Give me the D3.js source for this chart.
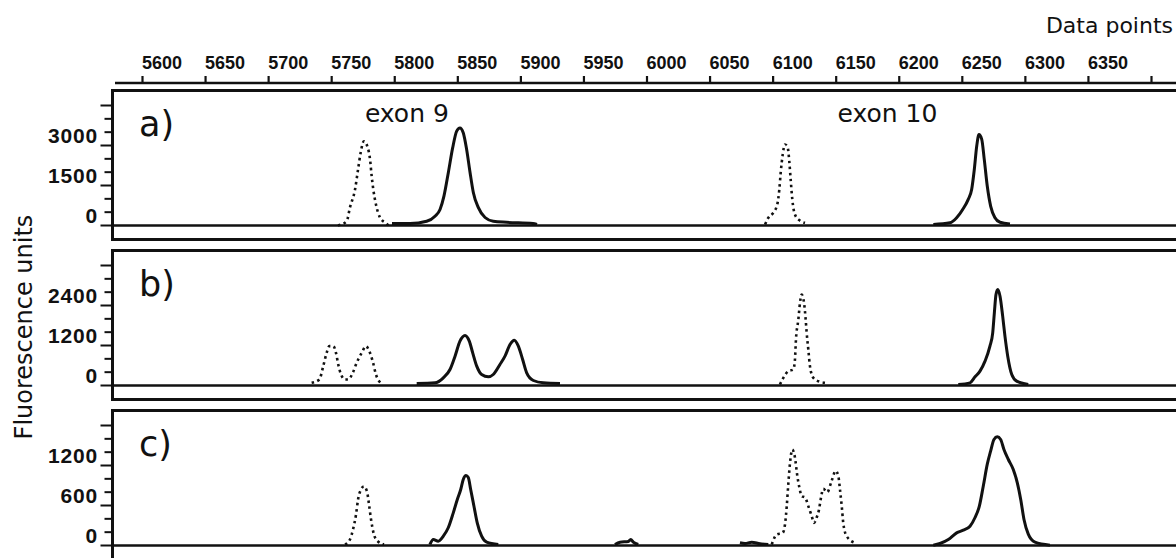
<!DOCTYPE html>
<html>
<head>
<meta charset="utf-8">
<script src="https://cdn.jsdelivr.net/npm/d3@7"></script>
<style>
  body { margin: 0; background: #fff; }
  svg { display: block; }
</style>
</head>
<body>
<svg id="chart" width="1176" height="558"></svg>
<script>
//=============================== data =====================================
var xTicks = [5600, 5650, 5700, 5750, 5800, 5850, 5900, 5950, 6000, 6050, 6100, 6150, 6200, 6250, 6300, 6350, 6400];
var xLabels = [5600, 5650, 5700, 5750, 5800, 5850, 5900, 5950, 6000, 6050, 6100, 6150, 6200, 6250, 6300, 6350];

var panelNames = ["a)", "b)", "c)"];
var yStep = [500, 400, 200];          // minor tick step per panel
var yMajor = [1500, 1200, 600];       // major tick step per panel
var yLabels = [[0, 1500, 3000], [0, 1200, 2400], [0, 600, 1200]];

var exonNames = ["exon 9", "exon 10"];
var exonAt = [5810, 6191];

// panel a
var a_ex9_dot = [[5755.4, 0], [5762.3, 160], [5764.9, 680], [5768.9, 1350], [5771.3, 2100], [5773.4, 2740], [5776.0, 3160], [5778.9, 2930], [5780.8, 2480], [5782.1, 1850], [5783.4, 1350], [5785.5, 790], [5788.7, 300], [5792.7, 110], [5795.8, 0]];
var a_ex9_sol = [[5798.2, 75], [5812.5, 75], [5825.7, 160], [5832.3, 350], [5836.3, 600], [5839.4, 1100], [5842.9, 1990], [5846.3, 2910], [5849.5, 3540], [5852.1, 3660], [5854.7, 3480], [5857.4, 2850], [5860.1, 1990], [5862.7, 1240], [5866.6, 680], [5872.0, 300], [5878.5, 160], [5889.2, 120], [5910.0, 75], [5913.2, 40]];
var a_ex10_dot = [[6094.0, 40], [6096.6, 290], [6100.5, 480], [6103.7, 790], [6105.3, 1350], [6106.4, 1980], [6108.0, 2660], [6109.8, 3040], [6112.0, 2910], [6113.2, 2410], [6114.3, 1730], [6115.6, 980], [6117.7, 410], [6121.2, 200], [6125.7, 100]];
var a_ex10_sol = [[6227.4, 40], [6240.6, 100], [6245.9, 290], [6250.7, 600], [6255.1, 980], [6257.8, 1350], [6259.9, 2100], [6261.8, 2970], [6263.6, 3410], [6265.8, 3230], [6267.8, 2480], [6270.2, 1470], [6272.9, 720], [6276.3, 290], [6280.3, 120], [6288.2, 60]];

// panel b
var b_ex9_dot = [[5734.5, 80], [5740.6, 180], [5743.7, 580], [5746.4, 980], [5748.5, 1180], [5751.7, 1180], [5753.8, 980], [5755.6, 630], [5757.8, 330], [5761.0, 180], [5763.6, 180], [5767.1, 380], [5770.2, 680], [5774.2, 980], [5777.6, 1180], [5780.2, 1030], [5782.9, 730], [5785.5, 330], [5790.0, 60]];
var b_ex9_sol = [[5817.8, 60], [5832.3, 80], [5838.9, 230], [5844.2, 480], [5848.2, 880], [5852.1, 1330], [5856.1, 1500], [5859.5, 1330], [5862.2, 980], [5865.4, 580], [5869.3, 330], [5874.6, 260], [5878.5, 330], [5883.8, 630], [5887.8, 880], [5891.8, 1230], [5895.2, 1360], [5898.4, 1180], [5901.8, 780], [5905.0, 380], [5910.3, 150], [5918.2, 80], [5931.4, 60]];
var b_ex10_dot = [[6105.8, 30], [6108.5, 230], [6112.4, 430], [6116.4, 480], [6117.7, 780], [6118.5, 1380], [6120.4, 1980], [6121.7, 2480], [6123.0, 2730], [6124.9, 2480], [6126.2, 1980], [6127.0, 1580], [6128.3, 1080], [6129.6, 580], [6132.3, 230], [6137.6, 110], [6141.5, 80]];
var b_ex10_sol = [[6247.2, 30], [6256.5, 80], [6260.5, 260], [6264.4, 430], [6268.4, 730], [6272.3, 1180], [6274.5, 1580], [6275.8, 2180], [6277.1, 2730], [6278.5, 2880], [6280.3, 2680], [6282.4, 2080], [6284.2, 1480], [6286.4, 880], [6289.6, 330], [6293.5, 130], [6302.7, 30]];

// panel c
var c_ex9_dot = [[5761.0, 15], [5764.9, 90], [5767.3, 240], [5769.7, 465], [5771.3, 690], [5773.6, 840], [5776.0, 885], [5778.4, 810], [5780.0, 615], [5781.6, 390], [5783.9, 165], [5787.1, 60], [5791.9, 15]];
var c_ex9_sol = [[5828.3, 15], [5831.0, 90], [5834.9, 65], [5838.9, 140], [5842.9, 270], [5846.8, 490], [5850.0, 690], [5852.7, 840], [5854.7, 990], [5856.9, 1050], [5858.7, 1020], [5860.6, 840], [5863.2, 590], [5865.8, 340], [5869.3, 140], [5873.3, 50], [5882.5, 15]];
var c_bump1 = [[5975.0, 15], [5979.0, 50], [5985.6, 60], [5987.5, 90], [5989.5, 50], [5993.5, 15]];
var c_bump2 = [[6074.1, 40], [6078.1, 30], [6083.4, 50], [6090.0, 25], [6096.6, 15]];
var c_ex10_dot = [[6099.3, 15], [6103.2, 165], [6108.0, 190], [6109.8, 315], [6111.2, 590], [6112.4, 915], [6113.8, 1240], [6115.6, 1440], [6117.7, 1320], [6119.6, 1040], [6121.2, 870], [6123.0, 740], [6125.7, 720], [6128.3, 590], [6131.0, 440], [6132.8, 340], [6134.9, 420], [6136.8, 540], [6138.1, 690], [6140.2, 850], [6143.3, 800], [6146.8, 970], [6150.0, 1120], [6152.1, 1040], [6153.4, 840], [6154.8, 590], [6156.0, 340], [6158.7, 140], [6165.3, 40]];
var c_ex10_sol = [[6227.4, 5], [6232.7, 30], [6239.3, 90], [6245.9, 190], [6251.2, 230], [6256.5, 290], [6260.5, 420], [6263.9, 590], [6267.0, 890], [6270.2, 1220], [6272.9, 1420], [6275.5, 1590], [6278.1, 1630], [6280.8, 1590], [6283.4, 1440], [6286.9, 1290], [6290.8, 1140], [6294.0, 940], [6296.7, 690], [6299.3, 390], [6302.7, 170], [6308.0, 50], [6319.9, 5]];

var dottedTraces = [[a_ex9_dot, a_ex10_dot], [b_ex9_dot, b_ex10_dot], [c_ex9_dot, c_ex10_dot]];
var solidTraces = [[a_ex9_sol, a_ex10_sol], [b_ex9_sol, b_ex10_sol], [c_ex9_sol, c_bump1, c_bump2, c_ex10_sol]];

//=============================== layout ===================================
var W = 1176, H = 558;
var frameLeft = 112.5,
  panelTop0 = 90.5,
  panelStep = 160,
  panelZero = 135,     // from frame top to the 0 line
  panelH = 149,
  plotH = 120;         // pixels from 0 to 3 major steps

var svg = d3.select("#chart");
svg.append("rect").attr("width", W).attr("height", H).attr("fill", "#fff");

var x = d3.scaleLinear().domain([5600, 6400]).range([142, 1151]);

var ink = "#111";
var numFont = "'Liberation Sans', Arial, Helvetica, sans-serif";
var txtFont = "'DejaVu Sans', Verdana, sans-serif";

//=============================== top axis ==================================
var topAxisY = 83;
svg.append("line")
  .attr("x1", 115).attr("x2", W)
  .attr("y1", topAxisY).attr("y2", topAxisY)
  .attr("stroke", ink).attr("stroke-width", 2.5);

var topAxis = d3.axisTop(x).tickValues(xTicks).tickSize(7).tickFormat("");
var gTop = svg.append("g").attr("transform", "translate(0," + topAxisY + ")").call(topAxis);
gTop.select(".domain").remove();
gTop.selectAll(".tick line").attr("stroke", ink).attr("stroke-width", 2.2);

// labels sit to the right of their tick
svg.append("g").selectAll("text")
  .data(xLabels)
  .enter()
  .append("text")
  .attr("x", function(d) { return x(d); })
  .attr("y", 69)
  .attr("font-family", numFont)
  .attr("font-weight", "bold")
  .attr("font-size", 18)
  .attr("fill", ink)
  .text(function(d) { return d; });

svg.append("text")
  .attr("x", 1173).attr("y", 33)
  .attr("text-anchor", "end")
  .attr("font-family", txtFont)
  .attr("font-size", 22)
  .attr("fill", ink)
  .text("Data points");

svg.append("text")
  .attr("transform", "translate(32,327) rotate(-90)")
  .attr("text-anchor", "middle")
  .attr("font-family", txtFont)
  .attr("font-size", 24)
  .attr("fill", ink)
  .text("Fluorescence units");

//=============================== panels ====================================
for (var p = 0; p < panelNames.length; p++) {
  var pTop = panelTop0 + p * panelStep;
  var zero = pTop + panelZero;
  var y = d3.scaleLinear().domain([0, 3 * yMajor[p]]).range([zero, zero - plotH]);

  var g = svg.append("g");

  // frame, right side runs off the picture
  g.append("rect")
    .attr("x", frameLeft).attr("y", pTop)
    .attr("width", W).attr("height", panelH)
    .attr("fill", "none").attr("stroke", ink).attr("stroke-width", 3);

  // zero line
  g.append("line")
    .attr("x1", frameLeft).attr("x2", W)
    .attr("y1", y(0)).attr("y2", y(0))
    .attr("stroke", ink).attr("stroke-width", 2.5);

  // y ticks
  var tv = d3.range(0, 3 * yMajor[p] + 1, yStep[p]);
  g.selectAll("line.yt")
    .data(tv)
    .enter()
    .append("line")
    .attr("class", "yt")
    .attr("x1", function(d) { return d % yMajor[p] == 0 ? frameLeft - 12 : frameLeft - 8; })
    .attr("x2", frameLeft)
    .attr("y1", function(d) { return y(d); })
    .attr("y2", function(d) { return y(d); })
    .attr("stroke", ink).attr("stroke-width", 2);

  g.selectAll("text.yl")
    .data(yLabels[p])
    .enter()
    .append("text")
    .attr("class", "yl")
    .attr("x", 98)
    .attr("y", function(d) { return y(d) - 3; })
    .attr("text-anchor", "end")
    .attr("font-family", numFont)
    .attr("font-weight", "bold")
    .attr("font-size", 21)
    .attr("letter-spacing", 0.8)
    .attr("fill", ink)
    .text(function(d) { return d; });

  // panel letter
  g.append("text")
    .attr("x", 139).attr("y", pTop + 45)
    .attr("font-family", txtFont)
    .attr("font-size", 35)
    .attr("fill", ink)
    .text(panelNames[p]);

  var line = d3.line()
    .x(function(d) { return x(d[0]); })
    .y(function(d) { return y(d[1]); })
    .curve(d3.curveMonotoneX);

  for (var i = 0; i < solidTraces[p].length; i++) {
    g.append("path")
      .attr("d", line(solidTraces[p][i]))
      .attr("fill", "none")
      .attr("stroke", ink)
      .attr("stroke-width", 3)
      .attr("stroke-linejoin", "round");
  }
  for (var i = 0; i < dottedTraces[p].length; i++) {
    g.append("path")
      .attr("d", line(dottedTraces[p][i]))
      .attr("fill", "none")
      .attr("stroke", ink)
      .attr("stroke-width", 2.6)
      .attr("stroke-dasharray", "2.5,3.5");
  }

  if (p == 0) {
    g.selectAll("text.exon")
      .data(exonNames)
      .enter()
      .append("text")
      .attr("class", "exon")
      .attr("x", function(d, k) { return x(exonAt[k]); })
      .attr("y", pTop + 31)
      .attr("text-anchor", "middle")
      .attr("font-family", txtFont)
      .attr("font-size", 25)
      .attr("fill", ink)
      .text(function(d) { return d; });
  }
}
</script>
</body>
</html>
